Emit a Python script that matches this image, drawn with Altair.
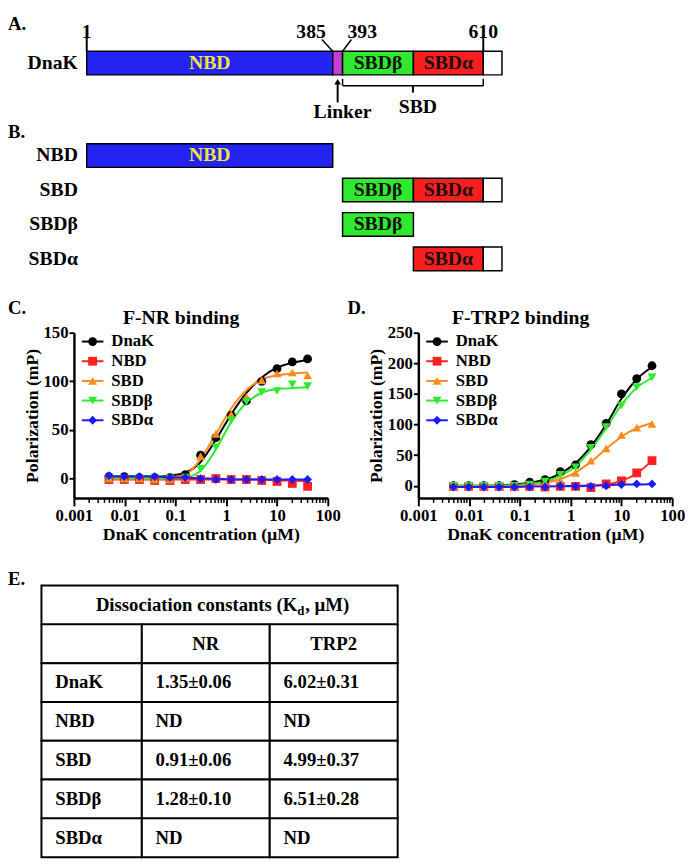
import altair as alt
import pandas as pd

FONT = "Liberation Serif"

# ---------------- Panels A/B : DnaK domain schematic ----------------
residue_breaks = [1, 385, 393, 507, 610, 638]
break_px = [80, 330, 340, 412, 483, 502]  # schematic is not to scale: piecewise scale range

seg_construct = ["DnaK"] * 5 + ["NBD"] + ["SBD"] * 3 + ["SBDβ"] + ["SBDα"] * 2
seg_domain = ["NBD", "Linker", "SBDβ", "SBDα", "Tail",
              "NBD",
              "SBDβ", "SBDα", "Tail",
              "SBDβ",
              "SBDα", "Tail"]
seg_start = [1, 385, 393, 507, 610, 1, 393, 507, 610, 393, 507, 610]
seg_end = [385, 393, 507, 610, 638, 385, 507, 610, 638, 507, 610, 638]

domain_names = ["NBD", "Linker", "SBDβ", "SBDα", "Tail"]
domain_fill = ["#2323f2", "#c63cd6", "#2fe82f", "#fa1e1e", "#ffffff"]

marker_res = [1, 385, 393, 610]
marker_text = ["1", "385", "393", "610"]

constructs_A = ["DnaK"]
constructs_B = ["NBD", "SBD", "SBDβ", "SBDα"]

# ---------------- Panels C/D : polarization titrations ----------------
conc = [0.0049, 0.0098, 0.0195, 0.039, 0.078, 0.156, 0.3125, 0.625, 1.25, 2.5, 5, 10, 20, 40]
series_names = ["DnaK", "NBD", "SBD", "SBDβ", "SBDα"]
series_colors = ["#000000", "#ff2020", "#ff8c1a", "#2eea2e", "#1a1aff"]
series_shapes = ["circle", "square", "triangle-up", "triangle-down", "diamond"]

nr_points = [
    [2, 2, 1, 1, 1, 4, 24, 42, 65, 80, 100, 113, 120, 123],
    [-1, -1, -1, -2, -2, -1, -1, 0, -1, -1, -2, -3, -5, -8],
    [0, 0, 0, -1, -1, 1, 23, 46, 66, 84, 101, 108, 109, 106],
    [0, 0, 0, 0, 0, 1, 10, 32, 60, 79, 89, 90, 97, 95],
    [3, 2, 2, 2, 1, 1, 0, -1, -1, -1, -1, -1, -1, -1],
]
nr_fits = [
    [2, 2, 2, 2, 3, 6, 17, 40, 66, 88, 104, 114, 119, 122],
    [-1, -1, -1, -1, -1, -1, -1, -1, -1, -1, -1, -2, -2, -3],
    [0, 0, 0, 0, 1, 4, 20, 46, 72, 91, 102, 106, 108, 109],
    [0, 0, 0, 0, 0, 1, 8, 30, 58, 78, 88, 92, 93, 94],
    [2, 2, 2, 2, 1, 1, 0, 0, -1, -1, -1, -1, -1, -1],
]
trp_points = [
    [0, 0, 0, 0, 2, 6, 10, 23, 34, 67, 102, 150, 175, 196],
    [-1, -1, -1, -1, -1, -1, -2, -1, -1, -3, 3, 8, 21, 41],
    [0, 0, 0, 0, 0, 2, 5, 9, 21, 41, 61, 83, 95, 101],
    [0, 0, 0, 0, 0, 2, 7, 18, 30, 62, 96, 131, 161, 177],
    [-2, -2, -2, -2, -2, -2, -2, 0, -1, -1, 0, 2, 3, 3],
]
trp_fits = [
    [0, 0, 0, 1, 2, 5, 10, 20, 37, 64, 100, 142, 174, 194],
    [-1, -1, -1, -1, -1, -1, -1, -1, -1, 0, 2, 8, 20, 41],
    [0, 0, 0, 0, 1, 2, 5, 11, 22, 39, 60, 80, 94, 102],
    [0, 0, 0, 0, 1, 3, 7, 16, 32, 59, 94, 132, 160, 176],
    [-2, -2, -2, -2, -2, -1, -1, -1, 0, 0, 1, 2, 2, 3],
]

decades = [0.001, 0.01, 0.1, 1, 10, 100]
minor_mult = [2, 3, 4, 5, 6, 7, 8, 9]

# ---------------- Panel E : table ----------------
table_title = "Dissociation constants (K"
table_sub = "d"
table_title_end = ", µM)"
col_headers = ["", "NR", "TRP2"]
row_labels = ["DnaK", "NBD", "SBD", "SBDβ", "SBDα"]
kd_nr = ["1.35±0.06", "ND", "0.91±0.06", "1.28±0.10", "ND"]
kd_trp2 = ["6.02±0.31", "ND", "4.99±0.37", "6.51±0.28", "ND"]

# =====================================================================
# One canvas (685 x 856); every panel has its own scales whose ranges place it.
W, H = 685, 856
df_seg = pd.DataFrame({"construct": seg_construct, "domain": seg_domain,
                       "start": seg_start, "end": seg_end})
xs = alt.Scale(domain=residue_breaks, range=break_px, nice=False, zero=False)


def txt(size=20, **kw):
    return dict(font=FONT, fontSize=size, fontWeight="bold", color="black", **kw)


def note(t, x, y, size=19, align="left", baseline="top"):
    return alt.Chart(pd.DataFrame({"t": [t]})).mark_text(
        **txt(size, align=align, baseline=baseline)).encode(text="t:N", x=alt.value(x), y=alt.value(y))


def schematic(constructs, y_range, pad_inner):
    data = df_seg[df_seg["construct"].isin(constructs)]
    yenc = alt.Y("construct:N", scale=alt.Scale(domain=constructs, range=y_range,
                                                 paddingInner=pad_inner, paddingOuter=0), axis=None)
    base = alt.Chart(data)
    bars = base.mark_rect(stroke="black", strokeWidth=1.5).encode(
        x=alt.X("start:Q", scale=xs, axis=None), x2="end:Q", y=yenc,
        fill=alt.Fill("domain:N", scale=alt.Scale(domain=domain_names, range=domain_fill), legend=None))
    mid = base.transform_calculate(mid="(datum.start + datum.end) / 2")
    lab_nbd = mid.transform_filter("datum.domain == 'NBD'").mark_text(
        font=FONT, fontSize=20, fontWeight="bold", baseline="middle", color="#f2e23c").encode(
        x=alt.X("mid:Q", scale=xs, axis=None), y=yenc, text="domain:N")
    lab_sbd = mid.transform_filter("datum.domain == 'SBDβ' || datum.domain == 'SBDα'").mark_text(
        font=FONT, fontSize=20, fontWeight="bold", baseline="middle", color="#161010").encode(
        x=alt.X("mid:Q", scale=xs, axis=None), y=yenc, text="domain:N")
    rowlab = alt.Chart(pd.DataFrame({"construct": constructs, "one": [1] * len(constructs)})).mark_text(
        **txt(20, align="right", baseline="middle", dx=-9)).encode(
        x=alt.X("one:Q", scale=xs, axis=None), y=yenc, text="construct:N")
    return [bars, lab_nbd, lab_sbd, rowlab]


# ----- A -----
df_mark = pd.DataFrame({"res": marker_res, "label": marker_text})
mk = alt.Chart(df_mark)
mx = alt.X("res:Q", scale=xs, axis=None)
num_straight = mk.transform_filter("datum.res == 1 || datum.res == 610").mark_text(
    **txt(20, align="center", baseline="alphabetic")).encode(x=mx, y=alt.value(24), text="label:N")
num_left = mk.transform_filter("datum.res == 385").mark_text(
    **txt(20, align="center", baseline="alphabetic", dx=-22)).encode(x=mx, y=alt.value(24), text="label:N")
num_right = mk.transform_filter("datum.res == 393").mark_text(
    **txt(20, align="center", baseline="alphabetic", dx=20)).encode(x=mx, y=alt.value(24), text="label:N")
tick_straight = mk.transform_filter("datum.res == 1 || datum.res == 610").mark_rule(
    color="black", strokeWidth=2).encode(x=mx, y=alt.value(22), y2=alt.value(37))
tick_left = mk.transform_filter("datum.res == 385").mark_rule(
    color="black", strokeWidth=1.5, x2Offset=-11).encode(x=mx, x2="res:Q", y=alt.value(37), y2=alt.value(25))
tick_right = mk.transform_filter("datum.res == 393").mark_rule(
    color="black", strokeWidth=1.5, x2Offset=9).encode(x=mx, x2="res:Q", y=alt.value(37), y2=alt.value(25))

linker = alt.Chart(df_seg).transform_filter(
    "datum.construct == 'DnaK' && datum.domain == 'Linker'").transform_calculate(
    mid="(datum.start + datum.end) / 2")
lx = alt.X("mid:Q", scale=xs, axis=None)
link_shaft = linker.mark_rule(color="black", strokeWidth=2).encode(x=lx, y=alt.value(68), y2=alt.value(89))
link_head = linker.mark_point(shape="triangle-up", filled=True, color="black", size=45, opacity=1).encode(
    x=lx, y=alt.value(68))
link_text = linker.mark_text(**txt(20, align="center", baseline="middle", dx=5)).encode(
    x=lx, y=alt.value(99), text=alt.value("Linker"))

sbd = alt.Chart(df_seg).transform_filter(
    "datum.construct == 'SBD' && datum.domain != 'Tail'").transform_aggregate(
    s="min(start)", e="max(end)", groupby=["construct"]).transform_calculate(
    mid="(datum.s + datum.e) / 2")
br_h = sbd.mark_rule(color="black", strokeWidth=1.5).encode(
    x=alt.X("s:Q", scale=xs, axis=None), x2="e:Q", y=alt.value(72))
br_l = sbd.mark_rule(color="black", strokeWidth=1.5).encode(
    x=alt.X("s:Q", scale=xs, axis=None), y=alt.value(65), y2=alt.value(72))
br_r = sbd.mark_rule(color="black", strokeWidth=1.5).encode(
    x=alt.X("e:Q", scale=xs, axis=None), y=alt.value(65), y2=alt.value(72))
br_c = sbd.mark_rule(color="black", strokeWidth=2, xOffset=3).encode(
    x=alt.X("mid:Q", scale=xs, axis=None), y=alt.value(72), y2=alt.value(79))
br_t = sbd.mark_text(**txt(20, align="center", baseline="middle", dx=8)).encode(
    x=alt.X("mid:Q", scale=xs, axis=None), y=alt.value(94), text=alt.value("SBD"))

layerA = alt.layer(
    *schematic(constructs_A, [37, 61], 0),
    tick_straight, tick_left, tick_right, num_straight, num_left, num_right,
    link_shaft, link_head, link_text, br_h, br_l, br_r, br_c, br_t,
)
layerB = alt.layer(*schematic(constructs_B, [131, 260], 0.314))

# ----- C / D -----
minor_ticks = [d * m for d in decades[:-1] for m in minor_mult]
PLOT_TOP, PLOT_BOTTOM = 323, 491
MARK_SIZE = 80


def long_df(points, fits):
    rows = []
    for name, p, f in zip(series_names, points, fits):
        for c, v, fv in zip(conc, p, f):
            rows.append({"conc": c, "series": name, "value": v, "fit": fv})
    return pd.DataFrame(rows)


color = alt.Color("series:N", scale=alt.Scale(domain=series_names, range=series_colors), legend=None)
shape = alt.Shape("series:N", scale=alt.Scale(domain=series_names, range=series_shapes), legend=None)


def panel(points, fits, ymin, ymax, yticks, left):
    df = long_df(points, fits)
    xsc = alt.Scale(type="log", domain=[0.001, 100], nice=False, range=[left, left + 258])
    xaxis = alt.Axis(orient="bottom", offset=PLOT_BOTTOM - H, values=decades, format="~g",
                     title="DnaK concentration (µM)", labelOverlap=False, labelFlush=False,
                     labelPadding=2, titlePadding=2, tickSize=8)
    x = alt.X("conc:Q", scale=xsc, axis=xaxis)
    yscale = alt.Scale(domain=[ymin, ymax], nice=False, zero=False, range=[PLOT_BOTTOM, PLOT_TOP])
    yaxis = alt.Axis(orient="left", offset=-left, values=yticks, title="Polarization (mP)",
                     tickSize=5, labelPadding=1, titlePadding=2, labelFlush=False)
    minor = alt.Chart(pd.DataFrame({"conc": minor_ticks})).mark_rule(
        color="black", strokeWidth=1.5).encode(
        x=x, y=alt.value(PLOT_BOTTOM), y2=alt.value(PLOT_BOTTOM + 5))
    lines = alt.Chart(df).mark_line(strokeWidth=2, interpolate="monotone").encode(
        x=x, y=alt.Y("fit:Q", scale=yscale, axis=yaxis), color=color)
    pts = alt.Chart(df).mark_point(filled=True, size=MARK_SIZE, opacity=1).encode(
        x=x, y=alt.Y("value:Q", scale=yscale, axis=yaxis), color=color, shape=shape)
    return alt.layer(minor, lines, pts)


def legend(left):
    df_leg = pd.DataFrame({"series": series_names})
    ly = alt.Y("series:N", scale=alt.Scale(type="point", domain=series_names,
                                            range=[PLOT_TOP + 9, PLOT_TOP + 89], padding=0), axis=None)
    leg_line = alt.Chart(df_leg).mark_rule(strokeWidth=2).encode(
        x=alt.value(left + 8), x2=alt.value(left + 30), y=ly, color=color)
    leg_pt = alt.Chart(df_leg).mark_point(filled=True, size=MARK_SIZE, opacity=1).encode(
        x=alt.value(left + 19), y=ly, color=color, shape=shape)
    leg_txt = alt.Chart(df_leg).mark_text(**txt(17, align="left", baseline="middle")).encode(
        x=alt.value(left + 38), y=ly, text="series:N")
    return alt.layer(leg_line, leg_pt, leg_txt)


layerC = panel(nr_points, nr_fits, -20, 150, [0, 50, 100, 150], 67)
layerD = panel(trp_points, trp_fits, -20, 250, [0, 50, 100, 150, 200, 250], 417)

# ----- E : table -----
row_keys = ["title", "header"] + row_labels
cells = [{"row": "title", "c0": 0, "c1": 3, "text": ""}]
for i, h in enumerate(col_headers):
    cells.append({"row": "header", "c0": i, "c1": i + 1, "text": h})
for lab, a, b in zip(row_labels, kd_nr, kd_trp2):
    for i, t in enumerate([lab, a, b]):
        cells.append({"row": lab, "c0": i, "c1": i + 1, "text": t})
df_cells = pd.DataFrame(cells)

tx = alt.Scale(domain=[0, 1, 3], range=[34, 136, 396], nice=False, zero=False)
ty = alt.Y("row:N", scale=alt.Scale(domain=row_keys, range=[580, 856], paddingInner=0, paddingOuter=0),
           axis=None)
tbase = alt.Chart(df_cells)
t_rect = tbase.mark_rect(fill="white", stroke="black", strokeWidth=2).encode(
    x=alt.X("c0:Q", scale=tx, axis=None), x2="c1:Q", y=ty)
t_head = tbase.transform_filter("datum.row == 'header'").transform_calculate(
    mid="(datum.c0 + datum.c1) / 2").mark_text(**txt(19, align="center", baseline="middle")).encode(
    x=alt.X("mid:Q", scale=tx, axis=None), y=ty, text="text:N")
t_body = tbase.transform_filter("datum.row != 'header' && datum.row != 'title'").mark_text(
    **txt(19, align="left", baseline="middle", dx=14)).encode(
    x=alt.X("c0:Q", scale=tx, axis=None), y=ty, text="text:N")
tt = alt.Chart(pd.DataFrame({"row": ["title"], "a": [table_title], "b": [table_sub],
                             "c": [table_title_end]}))
t_title1 = tt.mark_text(**txt(19, align="right", baseline="middle")).encode(
    x=alt.value(294), y=ty, text="a:N")
t_title2 = tt.mark_text(**txt(13, align="left", baseline="middle", dy=6)).encode(
    x=alt.value(294), y=ty, text="b:N")
t_title3 = tt.mark_text(**txt(19, align="left", baseline="middle", dx=8)).encode(
    x=alt.value(294), y=ty, text="c:N")
layerE = alt.layer(t_rect, t_head, t_body, t_title1, t_title2, t_title3)

notes = [
    note("A.", 0, 0), note("B.", 0, 110),
    note("C.", 0, 304, baseline="alphabetic"), note("D.", 345, 304, baseline="alphabetic"),
    note("F-NR binding", 176, 314, size=20, align="center", baseline="alphabetic"),
    note("F-TRP2 binding", 521, 314, size=20, align="center", baseline="alphabetic"),
    note("E.", 0, 564),
]

chart = alt.layer(
    layerA, layerB, layerC, legend(67), layerD, legend(417), layerE, *notes
).resolve_scale(x="independent", y="independent").properties(
    width=W, height=H, padding=0
).configure_view(stroke=None).configure_axis(
    labelFont=FONT, titleFont=FONT, labelFontSize=17, titleFontSize=18,
    labelFontWeight="bold", titleFontWeight="bold", labelColor="black", titleColor="black",
    domainColor="black", tickColor="black", domainWidth=2.5, tickWidth=2, grid=False,
)

chart.save("out.html", embed_options={"renderer": "svg", "actions": False})
